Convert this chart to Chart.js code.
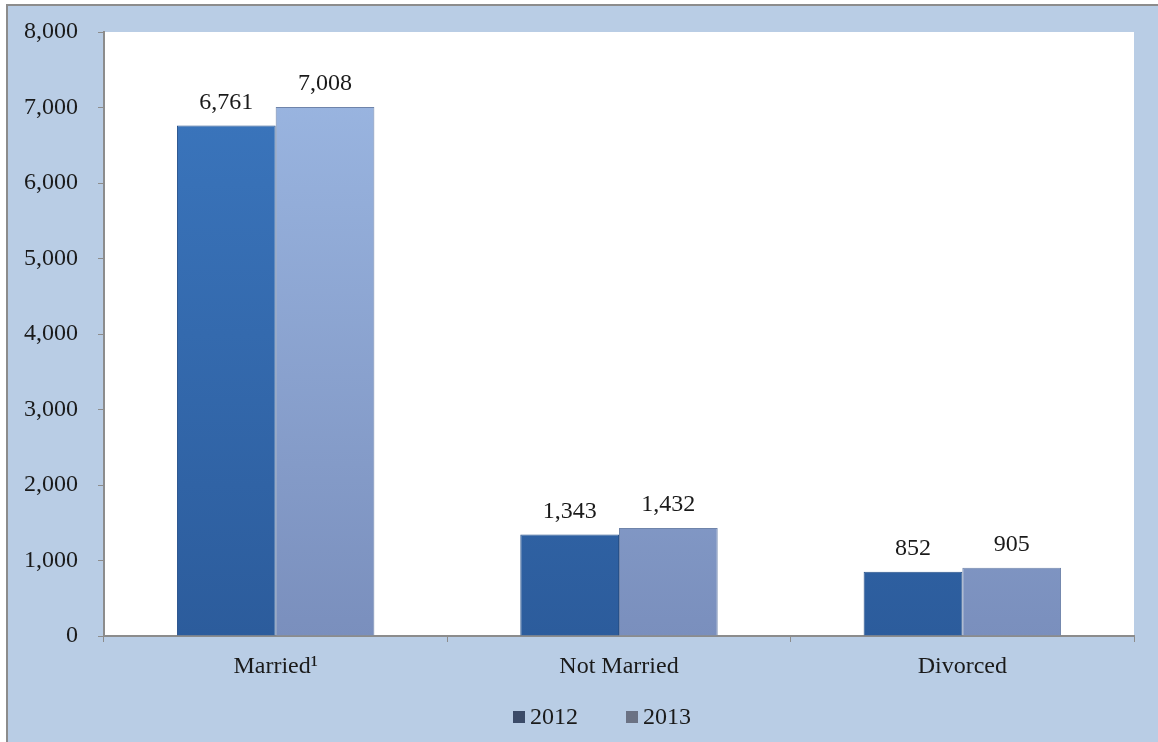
<!DOCTYPE html>
<html>
<head>
<meta charset="utf-8">
<script src="https://cdn.jsdelivr.net/npm/chart.js@4"></script>
<style>
  html, body { margin: 0; padding: 0; background: #ffffff; overflow: hidden; }
  #frame {
    position: absolute; left: 6px; top: 4px;
    width: 1160px; height: 740px;
    border: 2px solid #8c8c8c;
    background: #b9cde5;
  }
  #chart { display: block; }
</style>
</head>
<body>
<div id="frame"><canvas id="chart" width="1160" height="740"></canvas></div>
<script>
'use strict'

const categories = ['Married\u00B9', 'Not Married', 'Divorced']
const seriesNames = ['2012', '2013']
const values2012 = [6761, 1343, 852]
const values2013 = [7008, 1432, 905]
const yTicks = [0, 1000, 2000, 3000, 4000, 5000, 6000, 7000, 8000]

const serif = "'Liberation Serif', 'DejaVu Serif', serif"
const legendSwatches = ['#3b4b68', '#6b7284']

function barFill(ctx, stops) {
  const area = ctx.chart.chartArea
  if (!area) return stops[0]
  const g = ctx.chart.ctx.createLinearGradient(0, area.top, 0, area.bottom)
  g.addColorStop(0, stops[0])
  g.addColorStop(1, stops[1])
  return g
}

// white plot area behind the bars
const plotBg = {
  id: 'plotBg',
  beforeDraw(chart) {
    const { ctx, chartArea: a } = chart
    ctx.save()
    ctx.fillStyle = '#ffffff'
    ctx.fillRect(a.left, a.top, a.right - a.left, a.bottom - a.top)
    ctx.restore()
  },
}

// numbers above the bars
const valueLabels = {
  id: 'valueLabels',
  afterDatasetsDraw(chart) {
    const { ctx } = chart
    ctx.save()
    ctx.font = '24px ' + serif
    ctx.fillStyle = '#1a1a1a'
    ctx.textAlign = 'center'
    ctx.textBaseline = 'bottom'
    chart.data.datasets.forEach((ds, i) => {
      chart.getDatasetMeta(i).data.forEach((bar, j) => {
        ctx.fillText(ds.data[j].toLocaleString('en-US'), bar.x, bar.y - 11)
      })
    })
    ctx.restore()
  },
}

// legend row under the category labels
const bottomLegend = {
  id: 'bottomLegend',
  afterDraw(chart) {
    const { ctx, chartArea: a } = chart
    ctx.save()
    ctx.font = '24px ' + serif
    ctx.textBaseline = 'middle'
    ctx.textAlign = 'left'
    const box = 12
    const gap = 5
    const spacing = 48
    const widths = seriesNames.map((s) => box + gap + ctx.measureText(s).width)
    const total = widths.reduce((p, w) => p + w, 0) + spacing * (seriesNames.length - 1)
    let x = (a.left + a.right) / 2 - total / 2 - 17
    const y = a.bottom + 81
    seriesNames.forEach((s, i) => {
      ctx.fillStyle = legendSwatches[i]
      ctx.fillRect(x, y - box / 2, box, box)
      ctx.fillStyle = '#1a1a1a'
      ctx.fillText(s, x + box + gap, y + 1)
      x += widths[i] + spacing
    })
    ctx.restore()
  },
}

new Chart(document.getElementById('chart'), {
  type: 'bar',
  data: {
    labels: categories,
    datasets: [
      {
        label: seriesNames[0],
        data: values2012,
        backgroundColor: (c) => barFill(c, ['#3c78c0', '#2c5c9c']),
        borderColor: '#27518a',
        borderWidth: 1,
      },
      {
        label: seriesNames[1],
        data: values2013,
        backgroundColor: (c) => barFill(c, ['#9db9e4', '#7a8fbd']),
        borderColor: '#6f84aa',
        borderWidth: 1,
      },
    ],
  },
  options: {
    responsive: false,
    animation: false,
    devicePixelRatio: 1,
    layout: { padding: { top: 26, right: 34, left: 0, bottom: 0 } },
    datasets: {
      bar: { categoryPercentage: 0.575, barPercentage: 1 },
    },
    plugins: {
      legend: { display: false },
      tooltip: { enabled: false },
    },
    scales: {
      x: {
        grid: {
          display: true,
          drawOnChartArea: false,
          drawTicks: true,
          tickLength: 6,
          offset: true,
          color: '#8c8c8c',
        },
        border: { color: '#8c8c8c', width: 2 },
        ticks: {
          font: { family: serif, size: 24 },
          color: '#1a1a1a',
          padding: 10,
        },
        afterFit(s) { s.height = 110 },
      },
      y: {
        min: 0,
        max: 8000,
        afterBuildTicks(s) { s.ticks = yTicks.map((v) => ({ value: v })) },
        grid: {
          display: true,
          drawOnChartArea: false,
          drawTicks: true,
          tickLength: 6,
          color: '#8c8c8c',
        },
        border: { color: '#8c8c8c', width: 2 },
        ticks: {
          font: { family: serif, size: 24 },
          color: '#1a1a1a',
          padding: 20,
          callback: (v) => v.toLocaleString('en-US'),
        },
        afterFit(s) {
          s.width = 96
          s.paddingTop = 0
          s.paddingBottom = 0
        },
      },
    },
  },
  plugins: [plotBg, valueLabels, bottomLegend],
})
</script>
</body>
</html>
